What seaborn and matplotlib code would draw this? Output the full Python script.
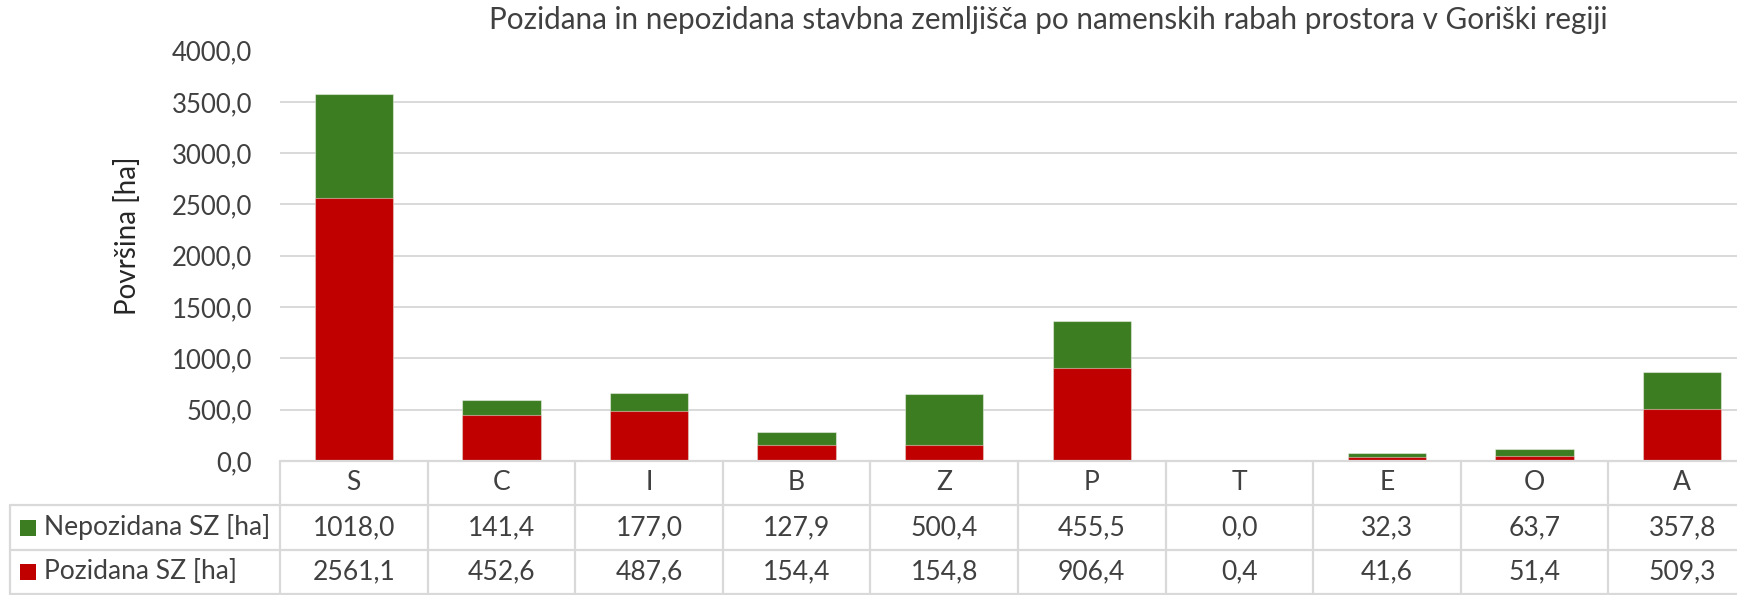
import matplotlib
matplotlib.use("Agg")
import matplotlib.pyplot as plt
import pandas as pd
import seaborn as sns
from matplotlib.lines import Line2D
from matplotlib.patches import Rectangle
from matplotlib.transforms import blended_transform_factory

# ---- data -------------------------------------------------------------
categories = ["S", "C", "I", "B", "Z", "P", "T", "E", "O", "A"]
nepozidana = [1018.0, 141.4, 177.0, 127.9, 500.4, 455.5, 0.0, 32.3, 63.7, 357.8]
pozidana = [2561.1, 452.6, 487.6, 154.4, 154.8, 906.4, 0.4, 41.6, 51.4, 509.3]
series_labels = ["Nepozidana SZ [ha]", "Pozidana SZ [ha]"]
y_ticks = [0, 500, 1000, 1500, 2000, 2500, 3000, 3500, 4000]

title = "Pozidana in nepozidana stavbna zemljišča po namenskih rabah prostora v Goriški regiji"
y_label = "Površina [ha]"

# ---- style ------------------------------------------------------------
GREEN = "#3C7D22"
RED = "#C00000"
GRID = "#D9D9D9"
TEXT = "#404040"
FS_TICK = 18.5
FS_TABLE = 19.1
FS_TITLE = 21.3
FS_YLABEL = 20

sns.set_theme(style="white")
plt.rcParams["font.family"] = ["Lato", "DejaVu Sans"]

W, H = 1737, 595
fig = plt.figure(figsize=(W / 100, H / 100), dpi=100)


def fx(px):
    return px / W


def fy(py):
    return 1 - py / H


# plot area (extends slightly past the right edge, as the table does)
col_w = 147.6
x_left = 280
y_top, y_zero = 50.5, 461
ax = fig.add_axes([fx(x_left), fy(y_zero), 10 * col_w / W, (y_zero - y_top) / H])

df = pd.DataFrame({"kategorija": categories,
                   "nepozidana": nepozidana,
                   "pozidana": pozidana})
df["skupaj"] = df["pozidana"] + df["nepozidana"]

bar_kw = dict(width=0.53, saturation=1, errorbar=None, ax=ax,
              edgecolor=(1, 1, 1, 0.45), linewidth=0.8, order=categories)
sns.barplot(data=df, x="kategorija", y="skupaj", color=GREEN, **bar_kw)
sns.barplot(data=df, x="kategorija", y="pozidana", color=RED, **bar_kw)

ax.set_xlim(-0.5, len(categories) - 0.5)
ax.set_ylim(0, 4000)
ax.set_yticks(y_ticks)
ax.set_yticklabels([f"{v:.1f}".replace(".", ",") for v in y_ticks])
ax.set_xticks([])
ax.set_xlabel("")
ax.set_ylabel("")
ax.tick_params(axis="y", length=0, pad=20, labelsize=FS_TICK, labelcolor=TEXT)
ax.yaxis.grid(True, color=GRID, linewidth=1.4)
ax.set_axisbelow(True)
for sp in ax.spines.values():
    sp.set_visible(False)

fig.text(fx(1048), fy(20), title, ha="center", va="center",
         fontsize=FS_TITLE, color=TEXT)
fig.text(fx(127), fy(236), y_label, ha="center", va="center",
         rotation=90, fontsize=FS_YLABEL, color="#262626")

# ---- data table below the plot ------------------------------------------
trans = blended_transform_factory(ax.transData, fig.transFigure)
row_lines = [461, 505, 550, 593.5]
left_edge = 10
line_kw = dict(color=GRID, linewidth=1.6, clip_on=False)

# horizontal rules
fig.add_artist(Line2D([fx(x_left), 1], [fy(row_lines[0])] * 2,
                      transform=fig.transFigure, **line_kw))
for y in row_lines[1:]:
    fig.add_artist(Line2D([fx(left_edge), 1], [fy(y)] * 2,
                          transform=fig.transFigure, **line_kw))
# vertical rules
fig.add_artist(Line2D([fx(left_edge)] * 2, [fy(row_lines[1]), fy(row_lines[3])],
                      transform=fig.transFigure, **line_kw))
for i in range(len(categories)):
    fig.add_artist(Line2D([i - 0.5] * 2, [fy(row_lines[0]), fy(row_lines[3])],
                          transform=trans, **line_kw))

# category header row
yc_head = (row_lines[0] + row_lines[1]) / 2
for i, c in enumerate(categories):
    fig.text(i, fy(yc_head), c, transform=trans, ha="center", va="center",
             fontsize=FS_TABLE, color=TEXT)

# value rows
fmt = lambda v: f"{v:.1f}".replace(".", ",")
rows = [(series_labels[0], nepozidana, GREEN), (series_labels[1], pozidana, RED)]
for r, (label, vals, col) in enumerate(rows):
    yc = (row_lines[r + 1] + row_lines[r + 2]) / 2
    fig.add_artist(Rectangle((fx(20), fy(yc + 8)), 16 / W, 16 / H,
                             transform=fig.transFigure, facecolor=col,
                             edgecolor="none"))
    fig.text(fx(44), fy(yc), label, ha="left", va="center",
             fontsize=FS_TABLE, color=TEXT)
    for i, v in enumerate(vals):
        fig.text(i, fy(yc), fmt(v), transform=trans, ha="center",
                 va="center", fontsize=FS_TABLE, color=TEXT)

fig.savefig("out.png", dpi=100, facecolor="white")
